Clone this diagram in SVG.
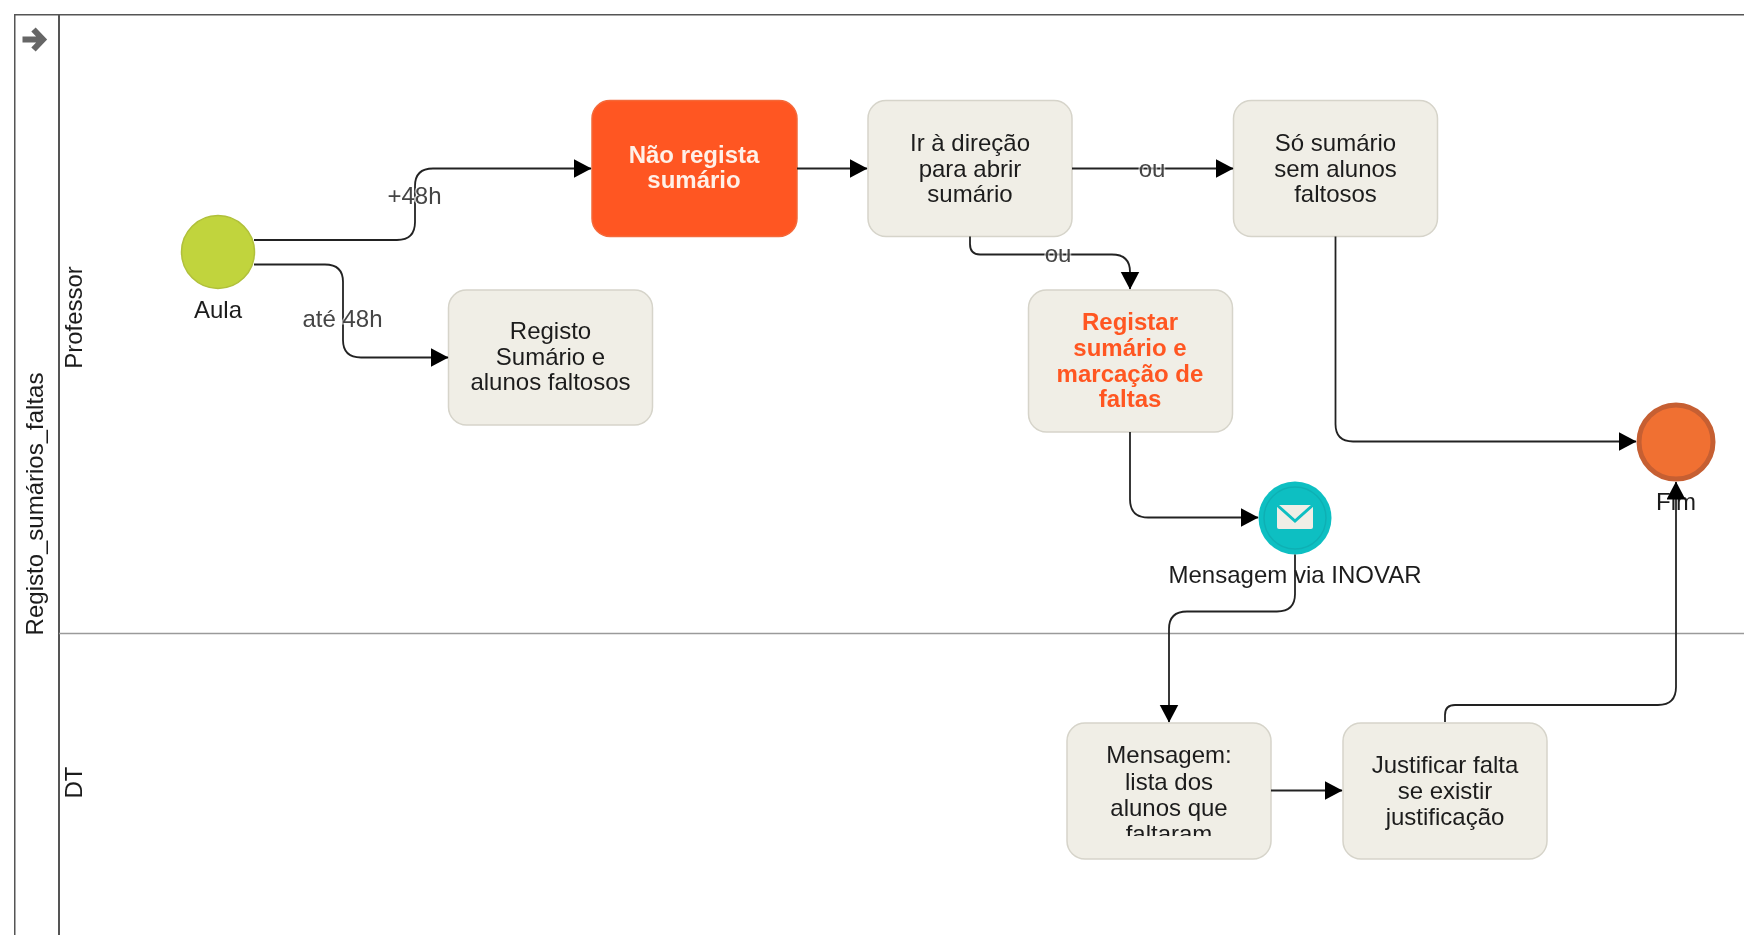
<svg xmlns="http://www.w3.org/2000/svg" width="1744" height="935" viewBox="0 0 1744 935">
<defs>
<style>
text{font-family:"Liberation Sans",Arial,sans-serif;font-size:24px;fill:#1c1c1c;text-anchor:middle}
.box{fill:#f0eee6;stroke:#d6d4ca;stroke-width:1.5}
.hot{fill:#ff5722;stroke:#f4693a;stroke-width:1.5}
.b{font-weight:bold;fill:#ff5722}
.w{font-weight:bold;fill:#fff0e8}
.cl{fill:#444;paint-order:stroke;stroke:#fff;stroke-opacity:.55;stroke-width:3px}
.line{fill:none;stroke:#222;stroke-width:1.8}
.lane{fill:none;stroke:#555;stroke-width:2}
</style>
<marker id="arr" markerUnits="userSpaceOnUse" markerWidth="19" markerHeight="20" refX="17.5" refY="9.5" orient="auto"><path d="M0 0L18 9.5L0 19Z" fill="#000"/></marker>
<clipPath id="clipM"><rect x="1067" y="740" width="204" height="96"/></clipPath>
<filter id="soft" x="0" y="0" width="100%" height="100%" filterUnits="objectBoundingBox"><feGaussianBlur stdDeviation="0.55"/></filter>
</defs>
<rect width="1744" height="935" fill="#fff"/>
<g filter="url(#soft)">
<g id="pool">
<path class="lane" d="M1744 14.5H14.5V935" stroke="#333"/>
<path class="lane" d="M59 14.5V935" stroke-width="2.5"/>
<path d="M59 633.6H1744" fill="none" stroke="#9a9a9a" stroke-width="1.5"/>
<path d="M22.5 39.5H42M33.5 29.5L43 39.5L33.5 49.5" fill="none" stroke="#666" stroke-width="6"/>
<text transform="translate(42.5,504) rotate(-90)">Registo_sumários_faltas</text>
<text transform="translate(82,317.5) rotate(-90)">Professor</text>
<text transform="translate(82,782.5) rotate(-90)">DT</text>
</g>
<g id="node-aula">
<circle cx="218" cy="252" r="36.5" fill="#c1d43c" stroke="#b0c03a" stroke-width="1.5"/>
<text x="218" y="318">Aula</text>
</g>
<g id="node-nao-regista">
<rect class="hot" x="592" y="100.5" width="205" height="136" rx="18"/>
<text class="w" x="694" y="162.5">Não regista</text>
<text class="w" x="694" y="188">sumário</text>
</g>
<g id="node-ir">
<rect class="box" x="868" y="100.5" width="204" height="136" rx="18"/>
<text x="970" y="151">Ir à direção</text>
<text x="970" y="176.5">para abrir</text>
<text x="970" y="202">sumário</text>
</g>
<g id="node-so">
<rect class="box" x="1233.5" y="100.5" width="204" height="136" rx="18"/>
<text x="1335.5" y="151">Só sumário</text>
<text x="1335.5" y="176.5">sem alunos</text>
<text x="1335.5" y="202">faltosos</text>
</g>
<g id="node-registo">
<rect class="box" x="448.5" y="290" width="204" height="135" rx="18"/>
<text x="550.5" y="339">Registo</text>
<text x="550.5" y="364.5">Sumário e</text>
<text x="550.5" y="390">alunos faltosos</text>
</g>
<g id="node-registar">
<rect class="box" x="1028.5" y="290" width="204" height="142" rx="18"/>
<text class="b" x="1130" y="330">Registar</text>
<text class="b" x="1130" y="356">sumário e</text>
<text class="b" x="1130" y="381.5">marcação de</text>
<text class="b" x="1130" y="407">faltas</text>
</g>
<g id="node-mensagem-evento">
<circle cx="1295" cy="518" r="36.5" fill="#0fbfc2"/>
<circle cx="1295" cy="518" r="31" fill="none" stroke="#0cb0b4" stroke-width="1.5"/>
<rect x="1277" y="505" width="36" height="24" rx="2" fill="#f0eee6"/>
<path d="M1277 505L1295 521L1313 505" fill="none" stroke="#0fbfc2" stroke-width="3"/>
<text x="1295" y="583">Mensagem via INOVAR</text>
</g>
<g id="node-fim">
<circle cx="1676" cy="442" r="37" fill="#f07033" stroke="#c65f33" stroke-width="5"/>
<text x="1676" y="510">Fim</text>
</g>
<g id="node-mensagem">
<rect class="box" x="1067" y="723" width="204" height="136" rx="18"/>
<g clip-path="url(#clipM)">
<text x="1169" y="763">Mensagem:</text>
<text x="1169" y="790">lista dos</text>
<text x="1169" y="816">alunos que</text>
<text x="1169" y="842">faltaram</text>
</g>
</g>
<g id="node-justificar">
<rect class="box" x="1343" y="723" width="204" height="136" rx="18"/>
<text x="1445" y="773">Justificar falta</text>
<text x="1445" y="799">se existir</text>
<text x="1445" y="824.5">justificação</text>
</g>
<g id="connectors">
<path class="line" marker-end="url(#arr)" d="M254 240H397Q415 240 415 222V186Q415 168.5 433 168.5H591"/>
<path class="line" marker-end="url(#arr)" d="M254 264.5H325Q343 264.5 343 282V340Q343 357.5 361 357.5H448"/>
<path class="line" marker-end="url(#arr)" d="M797 168.5H867"/>
<path class="line" marker-end="url(#arr)" d="M1072 168.5H1233"/>
<path class="line" marker-end="url(#arr)" d="M970 236.5V244Q970 254.5 980 254.5H1112Q1130 254.5 1130 272V289"/>
<path class="line" marker-end="url(#arr)" d="M1130 432V499Q1130 517.5 1148 517.5H1258"/>
<path class="line" marker-end="url(#arr)" d="M1335.5 236.5V424Q1335.5 441.5 1353 441.5H1636"/>
<path class="line" marker-end="url(#arr)" d="M1295 554.5V594Q1295 611.5 1277 611.5H1187Q1169 611.5 1169 629V722"/>
<path class="line" marker-end="url(#arr)" d="M1271 790.5H1342"/>
<path class="line" marker-end="url(#arr)" d="M1445 722V715Q1445 705 1455 705H1658Q1676 705 1676 687V482"/>
<text class="cl" x="414.5" y="204">+48h</text>
<text class="cl" x="342.5" y="327">até 48h</text>
<text class="cl" x="1152" y="176.5">ou</text>
<text class="cl" x="1058" y="261.5">ou</text>
</g>
</g>
</svg>
